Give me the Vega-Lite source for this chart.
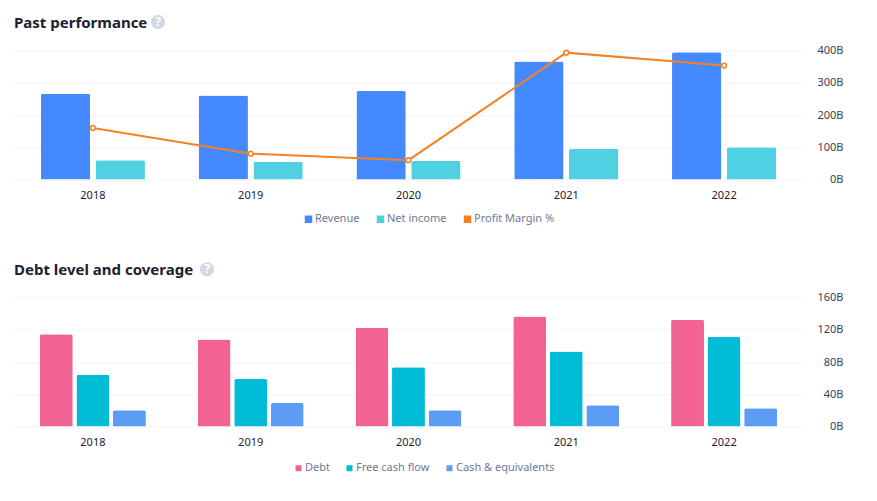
{
"$schema":"https://vega.github.io/schema/vega-lite/v6.json",
"padding":{"left":14,"top":14.5,"right":8,"bottom":5},
"background":"white",
"config":{"font":"Noto Sans","view":{"stroke":null},
"axis":{"labelFontSize":11,"labelFont":"Noto Sans","ticks":false,"domain":false,"title":null,"labelOverlap":false},
"title":{"fontSize":15,"fontWeight":"bold","color":"#1b2130","anchor":"start","font":"Noto Sans"},
"legend":{"direction":"horizontal","title":null,"symbolType":"square","symbolSize":36,"symbolOpacity":1,"labelFontSize":11,"labelColor":"#6e7a96","labelFont":"Noto Sans","columnPadding":14,"labelOffset":1}},
"spacing":36,
"datasets":{
"perf":[
{"year":"2018","series":"Revenue","value":265.6},{"year":"2018","series":"Net income","value":59.5},{"year":"2018","series":"Profit Margin %","value":22.4},
{"year":"2019","series":"Revenue","value":260.2},{"year":"2019","series":"Net income","value":55.3},{"year":"2019","series":"Profit Margin %","value":21.2},
{"year":"2020","series":"Revenue","value":274.5},{"year":"2020","series":"Net income","value":57.4},{"year":"2020","series":"Profit Margin %","value":20.9},
{"year":"2021","series":"Revenue","value":365.8},{"year":"2021","series":"Net income","value":94.7},{"year":"2021","series":"Profit Margin %","value":25.9},
{"year":"2022","series":"Revenue","value":394.3},{"year":"2022","series":"Net income","value":99.8},{"year":"2022","series":"Profit Margin %","value":25.3}],
"debt":[
{"year":"2018","series":"Debt","value":114.5},{"year":"2018","series":"Free cash flow","value":64.1},{"year":"2018","series":"Cash & equivalents","value":20.3},
{"year":"2019","series":"Debt","value":108},{"year":"2019","series":"Free cash flow","value":58.9},{"year":"2019","series":"Cash & equivalents","value":29},
{"year":"2020","series":"Debt","value":122.5},{"year":"2020","series":"Free cash flow","value":73.4},{"year":"2020","series":"Cash & equivalents","value":20.2},
{"year":"2021","series":"Debt","value":136.5},{"year":"2021","series":"Free cash flow","value":93},{"year":"2021","series":"Cash & equivalents","value":26.5},
{"year":"2022","series":"Debt","value":132.5},{"year":"2022","series":"Free cash flow","value":111.4},{"year":"2022","series":"Cash & equivalents","value":22.5}],
"help":[{"label":"?"}]},
"vconcat":[
{"width":789,"height":129,"title":{"text":"Past performance","offset":-16},
"resolve":{"scale":{"x":"independent","y":"independent"},"axis":{"x":"independent","y":"independent"}},
"layer":[
{"data":{"name":"perf"},"transform":[{"filter":"datum.series !== 'Profit Margin %'"}],
"mark":{"type":"bar","cornerRadiusTopLeft":2,"cornerRadiusTopRight":2},
"encoding":{
"x":{"field":"year","type":"nominal","scale":{"paddingInner":0.34,"paddingOuter":0.17},"axis":{"labelAngle":0,"labelColor":"#1b2130","labelPadding":10}},
"xOffset":{"field":"series","type":"nominal","sort":["Revenue","Net income"],"scale":{"paddingInner":0.1,"domain":["Revenue","Net income"],"range":[0,104.1]}},
"y":{"field":"value","type":"quantitative","scale":{"domain":[0,400]},"axis":{"orient":"right","values":[0,100,200,300,400],"labelExpr":"datum.value + 'B'","labelAlign":"right","labelPadding":40,"labelColor":"#3a4257","grid":true,"gridColor":"#f1f4fb","labelBound":false}},
"color":{"field":"series","type":"nominal","scale":{"domain":["Revenue","Net income","Profit Margin %"],"range":["#4589ff","#4fd1e3","#f58220"]},"legend":{"orient":"none","legendX":289,"legendY":163}}}},
{"data":{"name":"perf"},"transform":[{"filter":"datum.series === 'Profit Margin %'"}],
"mark":{"type":"line","strokeWidth":2,"point":{"filled":true,"fill":"white","stroke":"#f58220","strokeWidth":1.5,"size":22}},
"encoding":{
"x":{"field":"year","type":"nominal","scale":{"paddingInner":0.34,"paddingOuter":0.17},"axis":null},
"y":{"field":"value","type":"quantitative","scale":{"domain":[20,26],"zero":false},"axis":null},
"color":{"field":"series","type":"nominal"}}},
{"data":{"name":"help"},"mark":{"type":"point","filled":true,"size":200,"color":"#d5d8e4","opacity":1},
"encoding":{"x":{"datum":0.1825,"type":"quantitative","scale":{"domain":[0,1]},"axis":null},"y":{"datum":27.33,"type":"quantitative","scale":{"domain":[20,26],"zero":false},"axis":null}}},
{"data":{"name":"help"},"mark":{"type":"text","color":"white","fontWeight":"bold","fontSize":12},
"encoding":{"text":{"field":"label"},"x":{"datum":0.1825,"type":"quantitative","scale":{"domain":[0,1]},"axis":null},"y":{"datum":27.33,"type":"quantitative","scale":{"domain":[20,26],"zero":false},"axis":null}}}
]},
{"width":789,"height":129,"title":{"text":"Debt level and coverage","offset":-16},
"resolve":{"scale":{"x":"independent","y":"independent"},"axis":{"x":"independent","y":"independent"}},
"layer":[
{"data":{"name":"debt"},
"mark":{"type":"bar","cornerRadiusTopLeft":2,"cornerRadiusTopRight":2},
"encoding":{
"x":{"field":"year","type":"nominal","scale":{"paddingInner":0.328,"paddingOuter":0.164},"axis":{"labelAngle":0,"labelColor":"#1b2130","labelPadding":10}},
"xOffset":{"field":"series","type":"nominal","scale":{"paddingInner":0.1,"domain":["Debt","Free cash flow","Cash & equivalents"],"range":[0,106]}},
"y":{"field":"value","type":"quantitative","scale":{"domain":[0,160]},"axis":{"orient":"right","values":[0,40,80,120,160],"labelExpr":"datum.value + 'B'","labelAlign":"right","labelPadding":40,"labelColor":"#3a4257","grid":true,"gridColor":"#f1f4fb","labelBound":false}},
"color":{"field":"series","type":"nominal","scale":{"domain":["Debt","Free cash flow","Cash & equivalents"],"range":["#f26293","#00bcd6","#5c9cf5"]},"legend":{"orient":"none","legendX":279,"legendY":165}}}},
{"data":{"name":"help"},"mark":{"type":"point","filled":true,"size":200,"color":"#d5d8e4","opacity":1},
"encoding":{"x":{"datum":0.2446,"type":"quantitative","scale":{"domain":[0,1]},"axis":null},"y":{"datum":195,"type":"quantitative","scale":{"domain":[0,160]},"axis":null}}},
{"data":{"name":"help"},"mark":{"type":"text","color":"white","fontWeight":"bold","fontSize":12},
"encoding":{"text":{"field":"label"},"x":{"datum":0.2446,"type":"quantitative","scale":{"domain":[0,1]},"axis":null},"y":{"datum":195,"type":"quantitative","scale":{"domain":[0,160]},"axis":null}}}
]}
],
"resolve":{"scale":{"color":"independent","xOffset":"independent"}}
}
